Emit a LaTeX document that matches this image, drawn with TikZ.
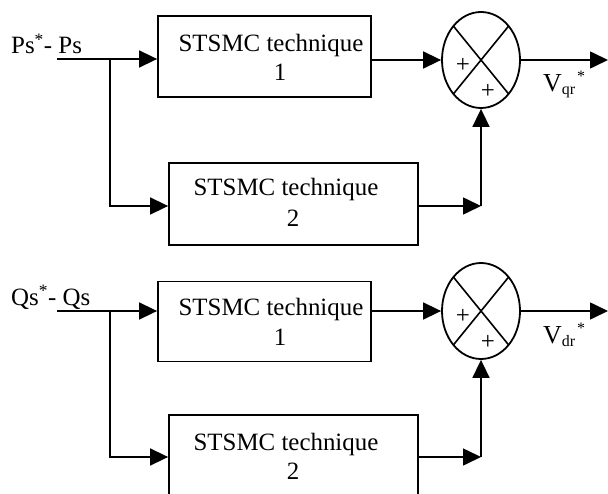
\documentclass[tikz,border=0pt]{standalone}
\usepackage{fontspec}
\setmainfont{Liberation Serif}
\usetikzlibrary{arrows.meta,shapes.geometric,calc}
\begin{document}
\begin{tikzpicture}[x=1bp,y=-1bp,
  line/.style={line width=1.6bp},
  arr/.style={line width=1.6bp,-{Triangle[length=18bp,width=17bp]}},
  box/.style={draw,line width=1.8bp,rectangle,inner sep=0pt},
  sumnode/.style={draw,ellipse,line width=1.8bp,minimum width=78bp,minimum height=96bp,inner sep=0pt},
  txt/.style={font=\fontsize{25}{29}\selectfont,inner sep=0pt,anchor=base},
  sig/.style={font=\fontsize{25}{29}\selectfont,inner sep=0pt,anchor=base west},
  outl/.style={font=\fontsize{26}{30}\selectfont,inner sep=0pt,anchor=base west},
  pm/.style={font=\fontsize{25}{25}\selectfont,inner sep=0pt}]
\useasboundingbox (0,0) rectangle (608,494);
\clip (0,0) rectangle (608,494);

% ---------- upper loop ----------
\node[box,minimum width=213bp,minimum height=81bp] (b1) at (264.5,56.5) {};
\node[box,minimum width=249bp,minimum height=82bp] (b2) at (293.5,204) {};
\node[sumnode] (s1) at (481,60) {};
\draw[line] ($(s1)+(27.6,33.9)$) -- ($(s1)+(-27.6,-33.9)$);
\draw[line] ($(s1)+(-27.6,33.9)$) -- ($(s1)+(27.6,-33.9)$);
\node[pm] (p1a) at (463,65) {+};
\node[pm] (p1b) at (488,91) {+};

\node[txt] (t1a) at (271,52) {STSMC technique};
\node[txt] (t1b) at (280,81) {1};
\node[txt] (t2a) at (286,196) {STSMC technique};
\node[txt] (t2b) at (293,227) {2};

\node[sig] (in1l) at (11,54) {Ps\textsuperscript{*}- Ps};
\node[outl] (o1l) at (543,92) {V\raisebox{-3bp}{\fontsize{16}{16}\selectfont qr}\hspace{2bp}\raisebox{10bp}{\fontsize{16}{16}\selectfont *}};

\coordinate (in1) at (57,59);
\coordinate (br1) at (110,59);
\coordinate (d1) at (110,206);
\coordinate (k1) at (481,206);
\coordinate (o1) at (608,60);

\draw[arr] (in1) -- (b1.west |- in1);
\draw[arr] (br1) -- (d1) -- (b2.west |- d1);
\draw[arr] (b1.east |- s1) -- (s1.west);
\draw[arr] (b2.east |- k1) -- (k1);
\draw[arr] (k1) -- (s1.south);
\draw[arr] (s1.east) -- (o1);

% ---------- lower loop ----------
\node[box,minimum width=213bp,minimum height=80bp] (b3) at (264.5,321.5) {};
\node[box,minimum width=249bp,minimum height=82bp] (b4) at (293.5,456) {};
\node[sumnode] (s2) at (481,311) {};
\draw[line] ($(s2)+(27.6,33.9)$) -- ($(s2)+(-27.6,-33.9)$);
\draw[line] ($(s2)+(-27.6,33.9)$) -- ($(s2)+(27.6,-33.9)$);
\node[pm] (p2a) at (463,316) {+};
\node[pm] (p2b) at (488,342) {+};

\node[txt] (t3a) at (271,315) {STSMC technique};
\node[txt] (t3b) at (280,345) {1};
\node[txt] (t4a) at (286,450) {STSMC technique};
\node[txt] (t4b) at (293,479) {2};

\node[sig] (in2l) at (11,305) {Qs\textsuperscript{*}- Qs};
\node[outl] (o2l) at (543,343) {V\raisebox{-3bp}{\fontsize{16}{16}\selectfont dr}\hspace{2bp}\raisebox{10bp}{\fontsize{16}{16}\selectfont *}};

\coordinate (in2) at (57,311);
\coordinate (br2) at (110,311);
\coordinate (d2) at (110,457);
\coordinate (k2) at (481,457);
\coordinate (o2) at (608,311);

\draw[arr] (in2) -- (b3.west |- in2);
\draw[arr] (br2) -- (d2) -- (b4.west |- d2);
\draw[arr] (b3.east |- s2) -- (s2.west);
\draw[arr] (b4.east |- k2) -- (k2);
\draw[arr] (k2) -- (s2.south);
\draw[arr] (s2.east) -- (o2);
\end{tikzpicture}
\end{document}
